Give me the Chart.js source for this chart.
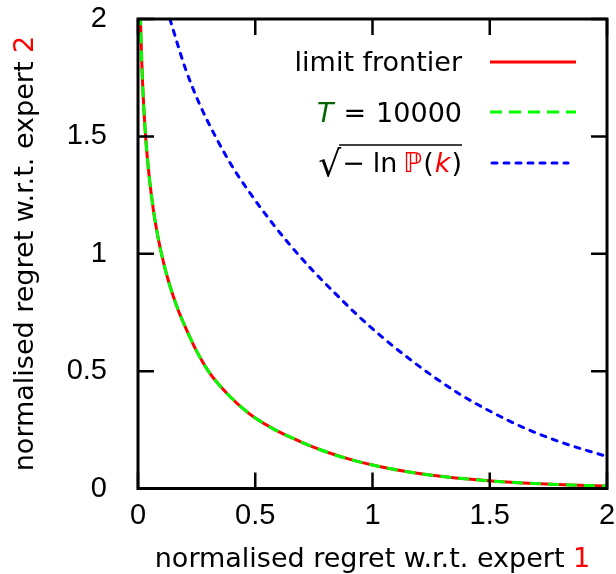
<!DOCTYPE html>
<html>
<head>
<meta charset="utf-8">
<script src="https://cdn.jsdelivr.net/npm/chart.js@4"></script>
<style>
  html, body { margin: 0; padding: 0; background: #fff; }
</style>
</head>
<body>
<canvas id="regretChart" width="616" height="574"></canvas>
<script>
// limit frontier (red) and T = 10000 (green) sit on top of each other
const frontierX = [0.01, 0.015, 0.02, 0.03, 0.04, 0.05, 0.065, 0.08, 0.1, 0.125, 0.15, 0.175, 0.2, 0.25, 0.3, 0.34, 0.392, 0.448, 0.5, 0.585, 0.692, 0.751, 0.82, 0.901, 1.0, 1.099, 1.191, 1.308, 1.407, 1.535, 1.715, 1.843, 2.0];
const frontierY = [2.02, 1.843, 1.715, 1.535, 1.407, 1.308, 1.191, 1.099, 1.0, 0.901, 0.82, 0.751, 0.692, 0.585, 0.5, 0.448, 0.392, 0.34, 0.3, 0.25, 0.2, 0.175, 0.15, 0.125, 0.1, 0.08, 0.065, 0.05, 0.04, 0.03, 0.02, 0.015, 0.0105];
const finiteX = [0.01, 0.015, 0.02, 0.03, 0.04, 0.05, 0.065, 0.08, 0.1, 0.125, 0.15, 0.175, 0.2, 0.25, 0.3, 0.34, 0.392, 0.448, 0.5, 0.585, 0.692, 0.751, 0.82, 0.901, 1.0, 1.099, 1.191, 1.308, 1.407, 1.535, 1.715, 1.843, 2.0];
const finiteY = [2.02, 1.843, 1.715, 1.535, 1.407, 1.308, 1.191, 1.099, 1.0, 0.901, 0.82, 0.751, 0.692, 0.585, 0.5, 0.448, 0.392, 0.34, 0.3, 0.25, 0.2, 0.175, 0.15, 0.125, 0.1, 0.08, 0.065, 0.05, 0.04, 0.03, 0.02, 0.015, 0.0105];
// sqrt(-ln P(k)) (blue)
const sqrtX = [0.136, 0.2, 0.257, 0.33, 0.4, 0.478, 0.56, 0.64, 0.74, 0.836, 0.934, 1.047, 1.147, 1.258, 1.375, 1.5, 1.65, 1.795, 2.0];
const sqrtY = [2.0, 1.795, 1.65, 1.5, 1.375, 1.258, 1.147, 1.047, 0.934, 0.836, 0.74, 0.64, 0.56, 0.478, 0.4, 0.33, 0.257, 0.2, 0.136];

const xTickValues = [0, 0.5, 1, 1.5, 2];
const xTickLabels = ["0", "0.5", "1", "1.5", "2"];
const yTickValues = [0, 0.5, 1, 1.5, 2];
const yTickLabels = ["0", "0.5", "1", "1.5", "2"];

const xTitle = "normalised regret w.r.t. expert ";
const xTitleNum = "1";
const yTitle = "normalised regret w.r.t. expert ";
const yTitleNum = "2";

const TEXT_FONT = "DejaVu Sans";
const TICK_FONT = "Liberation Sans";
const RED = "#ff0000", GREEN = "#00ff00", BLUE = "#0000ff";

function toPoints(xs, ys) {
  return xs.map((x, i) => ({ x: x, y: ys[i] }));
}

// frame, inward ticks, axis titles and the legend
const framePlugin = {
  id: "frame",
  afterDraw(chart) {
    const ctx = chart.ctx;
    const a = chart.chartArea;
    const xs = chart.scales.x, ys = chart.scales.y;
    ctx.save();
    ctx.strokeStyle = "#000";
    ctx.lineWidth = 2.5;
    ctx.beginPath();
    xTickValues.forEach(v => {
      const px = xs.getPixelForValue(v);
      ctx.moveTo(px, a.bottom); ctx.lineTo(px, a.bottom - 16);
      ctx.moveTo(px, a.top); ctx.lineTo(px, a.top + 16);
    });
    yTickValues.forEach(v => {
      const py = ys.getPixelForValue(v);
      ctx.moveTo(a.left, py); ctx.lineTo(a.left + 16, py);
      ctx.moveTo(a.right, py); ctx.lineTo(a.right - 16, py);
    });
    ctx.stroke();
    ctx.lineWidth = 3;
    ctx.strokeRect(a.left, a.top, a.right - a.left, a.bottom - a.top);

    // x title
    ctx.font = "27px '" + TEXT_FONT + "'";
    ctx.textBaseline = "alphabetic";
    ctx.textAlign = "left";
    let w1 = ctx.measureText(xTitle).width, w2 = ctx.measureText(xTitleNum).width;
    let sx = 372.5 - (w1 + w2) / 2;
    ctx.fillStyle = "#000";
    ctx.fillText(xTitle, sx, 567);
    ctx.fillStyle = RED;
    ctx.fillText(xTitleNum, sx + w1, 567);

    // y title
    ctx.save();
    ctx.translate(33, 253.5);
    ctx.rotate(-Math.PI / 2);
    w1 = ctx.measureText(yTitle).width; w2 = ctx.measureText(yTitleNum).width;
    sx = -(w1 + w2) / 2;
    ctx.fillStyle = "#000";
    ctx.fillText(yTitle, sx, 0);
    ctx.fillStyle = RED;
    ctx.fillText(yTitleNum, sx + w1, 0);
    ctx.restore();

    // legend
    const textRight = 462, lineL = 490;
    ctx.fillStyle = "#000";
    ctx.textAlign = "right";
    ctx.fillText("limit frontier", textRight, 71);
    ctx.lineWidth = 3;
    ctx.lineCap = "butt";
    ctx.strokeStyle = RED;
    ctx.setLineDash([]);
    ctx.beginPath(); ctx.moveTo(lineL, 62); ctx.lineTo(576, 62); ctx.stroke();

    // T = 10000
    ctx.textAlign = "left";
    const parts = [
      { t: "T", f: "italic 27px '" + TEXT_FONT + "'", c: "#006400", gap: 10 },
      { t: "=", f: "27px '" + TEXT_FONT + "'", c: "#000", gap: 10 },
      { t: "10000", f: "27px '" + TEXT_FONT + "'", c: "#000", gap: 0 }
    ];
    drawParts(ctx, parts, textRight, 122);
    ctx.strokeStyle = GREEN;
    ctx.setLineDash([12, 7]);
    ctx.beginPath(); ctx.moveTo(lineL, 112); ctx.lineTo(576, 112); ctx.stroke();

    // sqrt(-ln P(k))
    const rad = [
      { t: "\u2212", f: "27px '" + TEXT_FONT + "'", c: "#000", gap: 8 },
      { t: "ln", f: "27px '" + TEXT_FONT + "'", c: "#000", gap: 6 },
      { t: "\u2119", f: "27px '" + TEXT_FONT + "'", c: RED, gap: 1 },
      { t: "(", f: "27px '" + TEXT_FONT + "'", c: "#000", gap: 1 },
      { t: "k", f: "italic 27px '" + TEXT_FONT + "'", c: RED, gap: 1 },
      { t: ")", f: "27px '" + TEXT_FONT + "'", c: "#000", gap: 0 }
    ];
    const startX = drawParts(ctx, rad, textRight, 172);
    ctx.setLineDash([]);
    ctx.strokeStyle = "#000";
    ctx.lineWidth = 1.6;
    ctx.beginPath(); ctx.moveTo(startX - 3, 145); ctx.lineTo(textRight, 145); ctx.stroke();
    ctx.font = "36px '" + TEXT_FONT + "'";
    ctx.fillStyle = "#000";
    ctx.textAlign = "right";
    ctx.fillText("\u221A", startX - 1, 176);
    ctx.strokeStyle = BLUE;
    ctx.lineWidth = 3;
    ctx.lineCap = "round";
    ctx.setLineDash([5, 7]);
    ctx.beginPath(); ctx.moveTo(lineL + 2, 163); ctx.lineTo(568, 163); ctx.stroke();
    ctx.restore();
  }
};

// draw a row of differently styled text pieces, right aligned; returns left x
function drawParts(ctx, parts, right, baseline) {
  let total = 0;
  parts.forEach(p => { ctx.font = p.f; p.w = ctx.measureText(p.t).width; total += p.w + p.gap; });
  let x = right - total;
  const left = x;
  parts.forEach(p => {
    ctx.font = p.f;
    ctx.fillStyle = p.c;
    ctx.fillText(p.t, x, baseline);
    x += p.w + p.gap;
  });
  return left;
}

// labels may hang outside the plot box, so drop the scale's own label padding
function noLabelPadding(s) {
  s.paddingTop = 0; s.paddingBottom = 0; s.paddingLeft = 0; s.paddingRight = 0;
}

const ctx = document.getElementById("regretChart").getContext("2d");
const chart = new Chart(ctx, {
  type: "scatter",
  data: {
    datasets: [
      {
        label: "limit frontier",
        data: toPoints(frontierX, frontierY),
        showLine: true,
        borderColor: RED,
        borderWidth: 3,
        pointRadius: 0,
        cubicInterpolationMode: "monotone",
        order: 1
      },
      {
        label: "T = 10000",
        data: toPoints(finiteX, finiteY),
        showLine: true,
        borderColor: GREEN,
        borderWidth: 3,
        borderDash: [11, 7],
        pointRadius: 0,
        cubicInterpolationMode: "monotone",
        order: 0
      },
      {
        label: "sqrt(-ln P(k))",
        data: toPoints(sqrtX, sqrtY),
        showLine: true,
        borderColor: BLUE,
        borderWidth: 3,
        borderDash: [5, 7],
        borderCapStyle: "round",
        pointRadius: 0,
        cubicInterpolationMode: "monotone",
        order: 2
      }
    ]
  },
  options: {
    responsive: false,
    animation: false,
    devicePixelRatio: 1,
    layout: { padding: { left: 0, right: 9, top: 19, bottom: 0 } },
    plugins: { legend: { display: false }, tooltip: { enabled: false } },
    scales: {
      x: {
        type: "linear",
        min: 0,
        max: 2,
        afterBuildTicks: s => { s.ticks = xTickValues.map(v => ({ value: v })); },
        afterFit: s => { s.height = 85.5; noLabelPadding(s); },
        ticks: {
          color: "#000",
          padding: 10,
          font: { family: TICK_FONT, size: 29 },
          callback: v => xTickLabels[xTickValues.indexOf(v)]
        },
        grid: { display: false, drawTicks: false },
        border: { display: false }
      },
      y: {
        type: "linear",
        min: 0,
        max: 2,
        afterBuildTicks: s => { s.ticks = yTickValues.map(v => ({ value: v })); },
        afterFit: s => { s.width = 138; noLabelPadding(s); },
        ticks: {
          color: "#000",
          padding: 31,
          font: { family: TICK_FONT, size: 29 },
          callback: v => yTickLabels[yTickValues.indexOf(v)]
        },
        grid: { display: false, drawTicks: false },
        border: { display: false }
      }
    }
  },
  plugins: [framePlugin]
});
</script>
</body>
</html>
